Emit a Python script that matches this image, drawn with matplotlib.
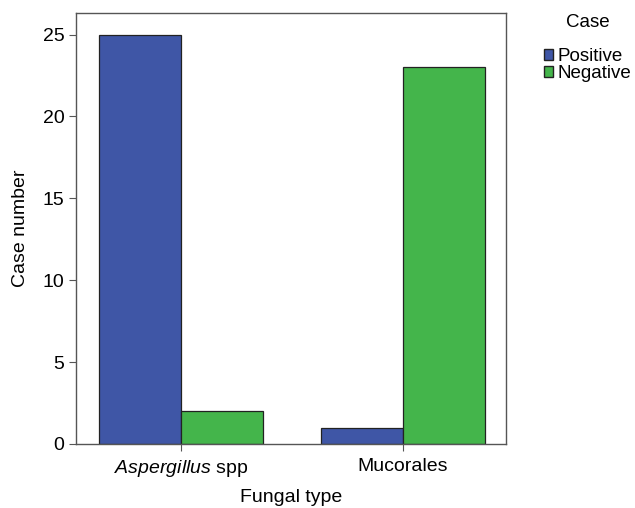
import matplotlib.pyplot as plt
import numpy as np
from matplotlib.patches import Patch

categories = ["Aspergillus spp", "Mucorales"]
positive = [25, 1]
negative = [2, 23]
series_names = ["Positive", "Negative"]
colors = ["#3F56A6", "#44B54B"]

plt.rcParams["font.family"] = ["Liberation Sans", "DejaVu Sans"]
plt.rcParams["mathtext.fontset"] = "custom"
plt.rcParams["mathtext.it"] = "Liberation Sans:italic"

fig = plt.figure(figsize=(6.35, 5.08), dpi=100)
ax = fig.add_axes([0.120, 0.126, 0.677, 0.848])

x = np.arange(len(categories))
w = 0.37
ax.bar(x - w / 2, positive, w, color=colors[0], edgecolor="#222222", linewidth=0.9)
ax.bar(x + w / 2, negative, w, color=colors[1], edgecolor="#222222", linewidth=0.9)

ax.set_xlim(-0.473, 1.464)
ax.set_ylim(0, 26.3)
ax.set_yticks([0, 5, 10, 15, 20, 25])
ax.set_xticks(x)
ax.set_xticklabels(["$\\it{Aspergillus}$ spp", "Mucorales"])
ax.tick_params(axis="both", labelsize=14, length=5, color="#555555", direction="out")
ax.tick_params(axis="x", pad=5)
for s in ax.spines.values():
    s.set_color("#555555")
    s.set_linewidth(1.0)

ax.set_xlabel("Fungal type", fontsize=14, labelpad=7)
ax.set_ylabel("Case number", fontsize=14, labelpad=10)

handles = [Patch(facecolor=colors[i], edgecolor="#222222", label=series_names[i]) for i in range(2)]
leg = fig.legend(handles=handles, title="Case", loc="upper left", bbox_to_anchor=(0.83, 1.005),
                 frameon=False, fontsize=13.5, title_fontsize=13.5, handlelength=0.5, handleheight=0.5,
                 handletextpad=0.25, labelspacing=0.0)
leg._legend_box.sep = 12

fig.savefig("out.png", dpi=100)
